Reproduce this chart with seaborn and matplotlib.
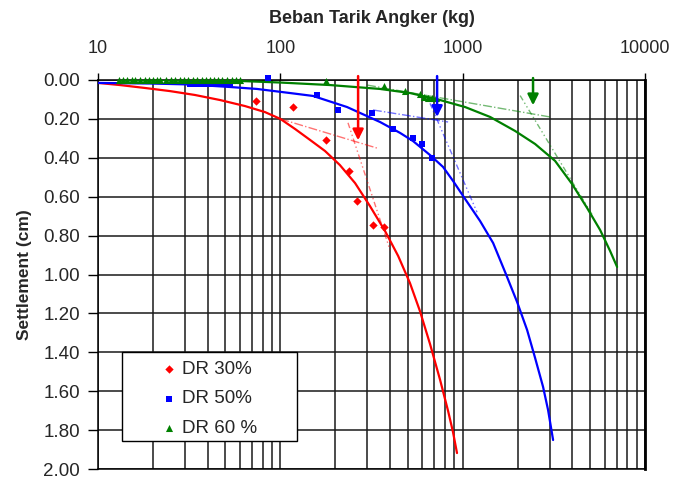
import numpy as np
import pandas as pd
import matplotlib
matplotlib.use("Agg")
import matplotlib.pyplot as plt
from matplotlib.patches import Rectangle
from matplotlib.ticker import FixedLocator, FuncFormatter, NullFormatter, LogLocator
import seaborn as sns

# measured points (load kg, settlement cm)
red_load_pts = [74, 117, 178, 238, 264, 322, 370]
red_settle_pts = [0.11, 0.14, 0.31, 0.47, 0.62, 0.745, 0.755]

blue_load_pts = [32, 34, 36, 38, 40, 42, 44, 47, 50, 53, 86, 159, 207, 318, 415, 535, 598, 679]
blue_settle_pts = [0.02, 0.02, 0.02, 0.02, 0.02, 0.02, 0.02, 0.02, 0.02, 0.02, -0.008, 0.077,
                   0.154, 0.17, 0.25, 0.30, 0.33, 0.40]

green_load_pts = [13, 13.7, 14.5, 15.3, 16, 17, 18, 19, 20, 21, 22, 23.5, 25, 26.5, 28, 29.5,
                  31, 33, 35, 37, 39, 41, 43, 45.5, 48, 51, 54, 57, 60,
                  178, 370, 483, 584, 615, 645, 680, 710]
green_settle_pts = [0] * 29 + [0.005, 0.03, 0.056, 0.07, 0.085, 0.09, 0.09, 0.095]

# trend curves
red_load = [10, 13.2, 18.1, 24.8, 34.0, 46.7, 64.0, 82.4, 100, 120.5, 145.5, 175.8, 212, 257,
            310, 375, 443, 514, 583, 662, 752, 832, 885, 931]
red_settle = [0.015, 0.026, 0.041, 0.057, 0.077, 0.103, 0.134, 0.165, 0.20, 0.252, 0.308,
              0.365, 0.437, 0.530, 0.648, 0.776, 0.905, 1.044, 1.188, 1.357, 1.542, 1.702,
              1.810, 1.918]

blue_load = [10, 19.3, 32.0, 53.0, 74.5, 113.0, 151.1, 232.2, 352.3, 453.6, 534.5, 662.4,
             780.6, 885.8, 1005, 1246, 1469, 1708, 1988, 2256, 2496, 2761, 2941, 3133]
blue_settle = [0.015, 0.018, 0.023, 0.036, 0.046, 0.067, 0.082, 0.139, 0.216, 0.272, 0.314,
               0.386, 0.447, 0.519, 0.596, 0.725, 0.838, 0.987, 1.141, 1.285, 1.429, 1.578,
               1.697, 1.851]

green_load = [12.9, 21.9, 36.3, 60.1, 99.6, 187.4, 352.3, 514.5, 751.6, 1031, 1414, 1939,
              2496, 3213, 3983, 4814, 5673, 6436, 7030]
green_settle = [0.0, 0.0, 0.003, 0.005, 0.013, 0.026, 0.046, 0.067, 0.103, 0.139, 0.190,
                0.262, 0.329, 0.416, 0.535, 0.658, 0.771, 0.879, 0.961]

# tangent construction lines: ([load start, load end], [settle start, settle end])
tan_red_flat = ([100, 339], [0.2, 0.35])
tan_red_steep = ([235, 400], [0.22, 0.875])
tan_blue_flat = ([322, 832], [0.154, 0.216])
tan_blue_steep = ([662, 1199], [0.12, 0.68])
tan_green_flat = ([299, 3013], [0.026, 0.19])
tan_green_steep = ([2066, 5188], [0.08, 0.70])

# failure load arrows
arrow_load = [267, 724, 2432]
arrow_top = [-0.02, -0.02, -0.01]
arrow_tip = [0.31, 0.19, 0.13]

labels = ["DR 30%", "DR 50%", "DR 60 %"]
colors = ["#ff0000", "#0000ff", "#008000"]

sns.set_style("white")
plt.rcParams["font.family"] = ["Liberation Sans", "DejaVu Sans"]

fig = plt.figure(figsize=(6.75, 4.8), dpi=100)
ax = fig.add_axes([98 / 675, 11 / 480, 547 / 675, 389 / 480])

curves = [(red_load, red_settle), (blue_load, blue_settle), (green_load, green_settle)]
points = [(red_load_pts, red_settle_pts), (blue_load_pts, blue_settle_pts),
          (green_load_pts, green_settle_pts)]
markers = ["D", "s", "^"]
msizes = [18, 22, 26]
tangents = [(tan_red_flat, tan_red_steep), (tan_blue_flat, tan_blue_steep),
            (tan_green_flat, tan_green_steep)]

for i in range(3):
    df_c = pd.DataFrame({"load": curves[i][0], "settle": curves[i][1]})
    sns.lineplot(data=df_c, x="load", y="settle", sort=False, color=colors[i],
                 lw=1.6, legend=False, ax=ax, zorder=4)
    df_p = pd.DataFrame({"load": points[i][0], "settle": points[i][1]})
    sns.scatterplot(data=df_p, x="load", y="settle", color=colors[i], marker=markers[i],
                    s=msizes[i], edgecolor=colors[i], linewidth=0, label=labels[i],
                    ax=ax, zorder=5, clip_on=False)
    flat, steep = tangents[i]
    ax.plot(flat[0], flat[1], color=colors[i], alpha=0.55, lw=1, ls="-.", zorder=3)
    ax.plot(steep[0], steep[1], color=colors[i], alpha=0.55, lw=1,
            ls=(0, (4, 2, 1, 2, 1, 2)), zorder=3)
    ax.annotate("", xy=(arrow_load[i], arrow_tip[i]), xytext=(arrow_load[i], arrow_top[i]),
                arrowprops=dict(arrowstyle="-|>", color=colors[i], lw=1.8, mutation_scale=16,
                                shrinkA=0, shrinkB=0),
                annotation_clip=False, zorder=6)

ax.set_xscale("log")
ax.set_xlim(10, 10000)
ax.set_ylim(2.0, 0.0)

ax.xaxis.tick_top()
ax.xaxis.set_label_position("top")
ax.xaxis.set_major_locator(FixedLocator([10, 100, 1000, 10000]))
ax.xaxis.set_major_formatter(FuncFormatter(lambda v, p: f"{int(v)}"))
ax.xaxis.set_minor_locator(LogLocator(base=10, subs=np.arange(2, 10)))
ax.xaxis.set_minor_formatter(NullFormatter())
ax.set_yticks(np.arange(0, 2.01, 0.2))
ax.yaxis.set_major_formatter(FuncFormatter(lambda v, p: f"{v:.2f}"))

ax.tick_params(axis="x", which="major", top=True, bottom=False, length=5, width=1,
               color="black", labelsize=13, pad=11.5)
ax.tick_params(axis="x", which="minor", top=False, bottom=False, length=0)
ax.tick_params(axis="y", which="major", left=True, length=7, width=1, color="black",
               labelsize=13.5, pad=6)

ax.grid(True, which="both", axis="x", color="#1a1a1a", lw=1.1)
ax.grid(True, which="major", axis="y", color="#1a1a1a", lw=1.1)
for side in ["left", "right", "top", "bottom"]:
    ax.spines[side].set_color("black")
    ax.spines[side].set_linewidth(1.1)
ax.spines["right"].set_linewidth(2)

ax.set_xlabel("Beban Tarik Angker (kg)", fontsize=13, fontweight="bold", labelpad=12)
ax.set_ylabel("Settlement (cm)", fontsize=12.5, fontweight="bold", labelpad=8)

# legend box drawn separately so the entries sit like the original
frame = Rectangle((0.0439, 0.072), 0.32, 0.229, transform=ax.transAxes, facecolor="white",
                  edgecolor="black", lw=1, zorder=8)
ax.add_patch(frame)
leg = ax.legend(loc="upper left", bbox_to_anchor=(0.116, 0.278), borderaxespad=0,
                borderpad=0, fontsize=13.5, frameon=False, handletextpad=0.29,
                handlelength=0.8, labelspacing=0.66)
leg.set_zorder(10)

fig.savefig("out.png", dpi=100)
